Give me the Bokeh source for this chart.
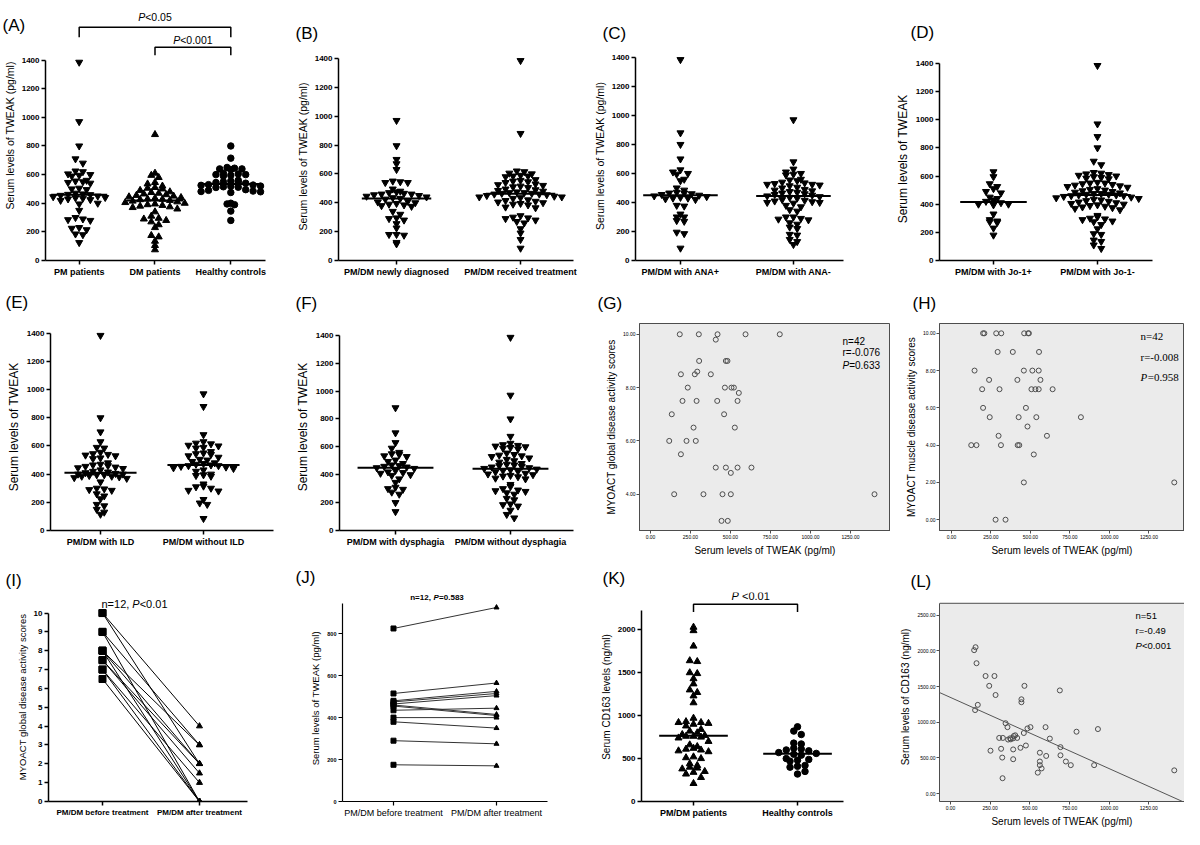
import numpy as np
from bokeh.plotting import figure
from bokeh.layouts import row, column
from bokeh.models import FixedTicker, Range1d, Label, Slope, NumeralTickFormatter
from bokeh.core.properties import value
from bokeh.embed import file_html
from bokeh.resources import INLINE

FONT = "Liberation Sans"
SERIF = "Liberation Serif"

# ---------------- data ----------------
# (A)
a_categories = ["PM patients", "DM patients", "Healthy controls"]
a_pm = [1385, 970, 800, 710, 680, 625, 620, 605, 600, 595, 590, 560, 555, 550, 545, 540, 505, 500,
        495, 470, 465, 462, 460, 455, 450, 445, 440, 438, 435, 430, 425, 420, 400, 395, 350, 300,
        290, 285, 280, 230, 225, 215, 185, 180, 125]
a_dm = [880, 610, 595, 580, 545, 535, 520, 510, 505, 500, 490, 480, 475, 470, 465, 460, 455, 450,
        445, 440, 435, 430, 428, 425, 420, 415, 410, 405, 400, 395, 390, 385, 380, 375, 370, 360,
        340, 310, 295, 290, 280, 270, 250, 230, 175, 165, 135, 105, 75]
a_hc = [800, 715, 650, 645, 640, 640, 635, 610, 605, 600, 600, 595, 590, 560, 555, 550, 548, 545,
        540, 530, 527, 525, 520, 518, 515, 512, 510, 495, 490, 485, 482, 480, 475, 400, 395, 390,
        345, 280]
# (B)
b_categories = ["PM/DM newly diagnosed", "PM/DM received treatment"]
b_new = [970, 795, 700, 670, 630, 550, 545, 540, 540, 495, 480, 475, 470, 465, 460, 460, 455, 450,
         445, 440, 435, 430, 425, 410, 405, 400, 395, 390, 385, 380, 375, 340, 320, 295, 290, 280,
         255, 225, 180, 180, 175, 125, 115]
b_treated = [1385, 880, 620, 615, 605, 600, 590, 585, 585, 580, 560, 555, 550, 545, 540, 530, 525,
             520, 515, 510, 505, 495, 490, 485, 480, 475, 470, 470, 465, 465, 460, 460, 455, 450,
             445, 440, 440, 435, 430, 420, 415, 410, 405, 400, 395, 390, 385, 370, 365, 310, 300,
             295, 290, 280, 270, 260, 220, 190, 145, 85]
# (C)
c_categories = ["PM/DM with ANA+", "PM/DM with ANA-"]
c_pos = [1385, 880, 800, 700, 625, 610, 600, 595, 560, 550, 500, 485, 470, 465, 465, 460, 455, 450,
         445, 440, 435, 430, 430, 425, 420, 380, 375, 320, 300, 300, 275, 270, 195, 185, 85]
c_neg = [970, 680, 630, 610, 600, 595, 590, 560, 555, 550, 540, 535, 530, 525, 525, 520, 515, 505,
         500, 490, 485, 480, 475, 470, 465, 460, 455, 450, 445, 440, 435, 430, 420, 415, 410, 405,
         400, 400, 395, 380, 370, 350, 340, 300, 300, 290, 285, 280, 260, 250, 230, 220, 180, 175,
         145, 130, 110]
# (D)
d_categories = ["PM/DM with Jo-1+", "PM/DM with Jo-1-"]
d_pos = [630, 595, 545, 525, 510, 490, 480, 450, 440, 430, 420, 410, 400, 400, 395, 330, 290, 280,
         275, 270, 230, 180]
d_neg = [1385, 970, 880, 800, 705, 680, 625, 620, 615, 610, 605, 600, 595, 590, 585, 580, 555, 550,
         550, 545, 540, 535, 530, 525, 520, 510, 505, 500, 495, 490, 485, 480, 475, 475, 470, 470,
         465, 465, 460, 460, 455, 450, 445, 440, 435, 430, 425, 420, 415, 410, 405, 400, 395, 390,
         385, 380, 375, 370, 360, 320, 310, 300, 295, 290, 280, 275, 255, 225, 190, 185, 145, 135,
         110, 85]
# (E)
e_categories = ["PM/DM with ILD", "PM/DM without ILD"]
e_ild = [1385, 800, 700, 630, 590, 585, 555, 545, 540, 535, 530, 515, 510, 480, 470, 465, 460, 455,
         450, 445, 440, 430, 420, 415, 410, 405, 400, 400, 395, 395, 390, 385, 385, 380, 375, 370,
         345, 300, 295, 290, 285, 260, 245, 225, 185, 175, 150, 130, 115]
e_no_ild = [970, 880, 680, 630, 620, 615, 605, 600, 590, 585, 560, 550, 545, 540, 530, 520, 505, 500,
            490, 480, 475, 470, 465, 460, 460, 455, 450, 445, 440, 430, 420, 400, 395, 390, 385, 330,
            315, 310, 300, 285, 280, 220, 195, 185, 85]
# (F)
f_categories = ["PM/DM with dysphagia", "PM/DM without dysphagia"]
f_dys = [880, 700, 630, 590, 560, 550, 545, 535, 530, 505, 495, 480, 470, 465, 460, 455, 450, 445,
         430, 420, 415, 410, 400, 395, 370, 345, 310, 300, 295, 275, 260, 200, 135]
f_no_dys = [1385, 970, 800, 675, 625, 615, 610, 605, 600, 595, 590, 585, 555, 545, 540, 535, 530, 520,
            510, 500, 490, 480, 475, 470, 465, 460, 455, 450, 445, 440, 435, 430, 425, 420, 410, 405,
            400, 395, 390, 385, 375, 370, 330, 315, 300, 290, 285, 280, 270, 260, 230, 220, 190, 185,
            175, 145, 115, 90]
# (G)
g_tweak = [183, 302, 419, 408, 594, 808, 304, 471, 481, 190, 277, 292, 377, 233, 506, 521, 465, 552,
           200, 288, 417, 544, 133, 460, 269, 527, 117, 225, 283, 190, 408, 471, 544, 631, 502, 148,
           331, 450, 502, 1400, 444, 483]
g_score = [10, 10, 10, 9.8, 10, 10, 9, 9, 9, 8.5, 8.5, 8.6, 8.5, 8, 8, 8, 8, 7.8, 7.5, 7.5, 7.5, 7.5,
           7, 7, 6.5, 6.5, 6, 6, 6, 5.5, 5, 5, 5, 5, 4.8, 4, 4, 4, 4, 4, 3, 3]
g_stats = ["n=42", "r=-0.076", "=0.633"]
# (H)
h_tweak = [200, 208, 283, 315, 460, 485, 490, 292, 388, 554, 146, 458, 512, 552, 238, 417, 563, 194,
           304, 506, 531, 552, 640, 200, 471, 242, 425, 537, 819, 481, 298, 604, 125, 158, 313, 419,
           429, 521, 458, 1410, 279, 342]
h_score = [10, 10, 10, 10, 10, 10, 10, 9, 9, 9, 8, 8, 8, 8, 7.5, 7.5, 7.5, 7, 7, 7, 7, 7, 7, 6, 6,
           5.5, 5.5, 5.5, 5.5, 5, 4.5, 4.5, 4, 4, 4, 4, 4, 3.5, 2, 2, 0, 0]
h_stats = ["n=42", "r=-0.008", "=0.958"]
# (I)
i_categories = ["PM/DM before treatment", "PM/DM after treatment"]
i_before = [10, 10, 9, 9, 8, 8, 8, 7.5, 7.5, 7, 7, 6.5]
i_after = [4, 2, 3, 0, 3, 2, 0, 2, 1.5, 1, 0, 0]
# (J)
j_categories = ["PM/DM before treatment", "PM/DM after treatment"]
j_before = [825, 515, 480, 475, 465, 460, 455, 435, 400, 380, 290, 175]
j_after = [925, 565, 525, 515, 505, 415, 410, 445, 400, 350, 275, 170]
# (K)
k_categories = ["PM/DM patients", "Healthy controls"]
k_pmdm = [2030, 1990, 1810, 1640, 1630, 1500, 1490, 1430, 1370, 1300, 1270, 1230, 1150, 970, 930,
          920, 920, 910, 900, 880, 840, 820, 800, 780, 770, 760, 760, 750, 740, 700, 660, 640, 620,
          610, 600, 590, 580, 520, 510, 500, 440, 420, 400, 390, 380, 350, 340, 320, 280, 210]
k_hc = [870, 820, 780, 680, 670, 620, 610, 600, 590, 570, 560, 550, 540, 500, 490, 480, 470, 420,
        410, 400, 350, 320]
# (L)
l_tweak = [158, 149, 164, 221, 277, 244, 284, 466, 447, 447, 172, 155, 689, 347, 359, 485, 504, 599,
           462, 794, 929, 626, 307, 330, 399, 408, 363, 376, 395, 420, 693, 475, 441, 319, 395, 252,
           563, 603, 693, 326, 395, 727, 563, 758, 905, 563, 574, 550, 328, 1410, 380]
l_cd163 = [2050, 2009, 1826, 1647, 1647, 1509, 1381, 1509, 1321, 1280, 1243, 1170, 1445, 986, 931,
           913, 931, 931, 849, 867, 904, 771, 780, 780, 807, 817, 757, 775, 775, 780, 651, 674, 642,
           628, 619, 601, 573, 528, 537, 505, 482, 450, 450, 399, 399, 399, 353, 294, 216, 326, 760]
l_stats = ["n=51", "r=-0.49", "<0.001"]

tweak_ticks = [0, 200, 400, 600, 800, 1000, 1200, 1400]
spss_x_ticks = [0, 250, 500, 750, 1000, 1250]

# ---------------- helpers ----------------
CW = {'.': .278, ',': .278, '<': .584, '=': .584, '-': .333, ' ': .278, '\u00a0': .278,
      'P': .667, 'n': .556, 'r': .333}


def text_w(s, size, bold=False):
    return sum(CW.get(ch, .556) for ch in s) * size * (1.04 if bold else 1.0)


def rich_text(p, x, y, parts, size, font=FONT, align="center", color="black"):
    parts = [(t.replace(" ", "\u00a0"), st) for t, st in parts]
    total = sum(text_w(t, size, "bold" in st) for t, st in parts)
    off = -total / 2 if align == "center" else 0.0
    for t, st in parts:
        p.text(x=[x], y=[y], text=[t], x_offset=off, text_align="left", text_baseline="middle",
               text_font=value(font), text_font_size=f"{size}px", text_font_style=st,
               text_color=color)
        off += text_w(t, size, "bold" in st)


def base_fig(w, h, l, r, t, b, xr, yr):
    p = figure(width=w, height=h, x_range=Range1d(*xr), y_range=Range1d(*yr),
               output_backend="svg", toolbar_location=None,
               min_border_left=l, min_border_right=r, min_border_top=t, min_border_bottom=b)
    p.title.visible = False
    p.xgrid.visible = False
    p.ygrid.visible = False
    p.outline_line_color = None
    p.border_fill_color = "white"
    p.background_fill_color = "white"
    return p


def style_axis(ax, tick_size, tick_bold, lab_size, lw=1.5, tick_out=4, color="black"):
    ax.axis_line_width = lw
    ax.axis_line_color = color
    ax.major_tick_line_width = lw
    ax.major_tick_line_color = color
    ax.major_tick_out = tick_out
    ax.major_tick_in = 0
    ax.minor_tick_line_color = None
    ax.major_label_text_font = FONT
    ax.major_label_text_font_size = f"{tick_size}px"
    ax.major_label_text_font_style = "bold" if tick_bold else "normal"
    ax.major_label_text_color = "black"
    ax.major_label_standoff = 2
    ax.axis_label_text_font = FONT
    ax.axis_label_text_font_size = f"{lab_size}px"
    ax.axis_label_text_font_style = "normal"
    ax.axis_label_text_color = "black"
    ax.axis_label_standoff = 3


def title_letter(p, letter, offset, standoff):
    p.title.visible = True
    p.title.text = letter
    p.title.align = "left"
    p.title.offset = offset
    p.title.standoff = standoff
    p.title.text_font = FONT
    p.title.text_font_size = "17px"
    p.title.text_font_style = "normal"
    p.title.text_color = "black"


def swarm(vals, center, bin_h, step):
    v = np.sort(np.asarray(vals, float))[::-1]
    keys = np.floor(v / bin_h).astype(int)
    xs = np.zeros_like(v)
    for k in np.unique(keys):
        idx = np.where(keys == k)[0]
        n = len(idx)
        offs = (np.arange(n) - (n - 1) / 2) * step
        order = np.argsort(np.abs(offs), kind="stable")
        for m, i in enumerate(idx):
            xs[i] = center + offs[order[m]]
    return xs, v


def gp_axes(p, cats, cat_size, cat_bold, yticks, ybound, ylabel, ylab_size, ytick_size=8,
            ytick_bold=True, lw=1.5):
    pos = list(range(1, len(cats) + 1))
    xa, ya = p.xaxis[0], p.yaxis[0]
    style_axis(xa, cat_size, cat_bold, 10, lw)
    xa.ticker = FixedTicker(ticks=pos)
    xa.major_label_overrides = {i: s for i, s in zip(pos, cats)}
    style_axis(ya, ytick_size, ytick_bold, ylab_size, lw)
    ya.ticker = FixedTicker(ticks=yticks)
    ya.bounds = ybound
    ya.axis_label = ylabel


def dot_panel(geom, xr, yr, cats, groups, markers, bin_h, med_half, ylabel, ylab_size,
              yticks=tweak_ticks, ybound=(0, 1400), step_px=7.5, ms=7):
    w, h, l, r, t, b = geom
    p = base_fig(w, h, l, r, t, b, xr, yr)
    ppx = (w - l - r) / (xr[1] - xr[0])
    step = step_px / ppx
    for c, vals, mk in zip(range(1, len(cats) + 1), groups, markers):
        xs, ys = swarm(vals, c, bin_h, step)
        size = ms if mk != "circle" else ms - 0.5
        p.scatter(xs, ys, marker=mk, size=size, fill_color="black", line_color="black")
        med = float(np.median(vals))
        p.segment(x0=[c - med_half], x1=[c + med_half], y0=[med], y1=[med],
                  line_color="black", line_width=2)
    gp_axes(p, cats, 9, True, yticks, ybound, ylabel, ylab_size)
    return p


def spss_panel(geom, xr, yr, xs, ys, xticks, yticks, xlabel, ylabel, box_top=None):
    w, h, l, r, t, b = geom
    p = base_fig(w, h, l, r, t, b, xr, yr)
    if box_top is None:
        p.background_fill_color = "#EBEBEB"
        p.outline_line_color = "#4d4d4d"
        p.outline_line_width = 1
    else:
        p.quad(left=[xr[0]], right=[xr[1]], bottom=[yr[0]], top=[box_top],
               fill_color="#EBEBEB", line_color="#4d4d4d", line_width=1)
    p.scatter(xs, ys, marker="circle", size=5, fill_color=None, line_color="#4d4d4d",
              line_width=1)
    for ax, ticks, lab in ((p.xaxis[0], xticks, xlabel), (p.yaxis[0], yticks, ylabel)):
        style_axis(ax, 5, False, 10, lw=1, tick_out=3, color="#4d4d4d")
        ax.ticker = FixedTicker(ticks=ticks)
        ax.formatter = NumeralTickFormatter(format="0.00")
        ax.axis_label = lab
        ax.major_label_standoff = 1
        ax.axis_label_standoff = 3
    if box_top is not None:
        p.yaxis[0].bounds = (yr[0], box_top)
    return p


def bracket(p, x0, x1, y_top, y_leg):
    p.line([x0, x0, x1, x1], [y_leg, y_top, y_top, y_leg], line_color="black", line_width=1.5)


# column widths 290, 290, 310, 294 ; row heights 279, 279, 271
# ---------------- row 1 ----------------
pA = dot_panel((290, 279, 43, 25, 10, 17), (0.5556, 3.4576), (0, 1746.5), a_categories,
               [a_pm, a_dm, a_hc], ["inverted_triangle", "triangle", "circle"], 40, 0.37,
               "Serum levels of TWEAK (pg/ml)", 10.5)
bracket(pA, 1, 3, 1629, 1559)
bracket(pA, 2, 3, 1490, 1434)
rich_text(pA, 2, 1698, [("P", "italic"), ("<0.05", "normal")], 10.5)
rich_text(pA, 2.5, 1539, [("P", "italic"), ("<0.001", "normal")], 10.5)
pA.add_layout(Label(x=2, y=1642, x_units="canvas", y_units="data", text="(A)", text_font=FONT,
                    text_font_size="17px", text_baseline="middle", text_align="left",
                    text_color="black"), "right")

pB = dot_panel((290, 279, 48, 7, 52, 17), (0.532, 2.427), (0, 1441), b_categories,
               [b_new, b_treated], ["inverted_triangle", "inverted_triangle"], 40, 0.28,
               "Serum levels of TWEAK (pg/ml)", 10.5)
title_letter(pB, "(B)", -43, 20)

pC = dot_panel((310, 279, 55, 47, 51, 17), (0.602, 2.443), (0, 1441), c_categories,
               [c_pos, c_neg], ["inverted_triangle", "inverted_triangle"], 40, 0.33,
               "Serum levels of TWEAK (pg/ml)", 10.5)
title_letter(pC, "(C)", -33, 18)

pD = dot_panel((294, 279, 49, 32, 57, 17), (0.481, 2.529), (0, 1442), d_categories,
               [d_pos, d_neg], ["inverted_triangle", "inverted_triangle"], 40, 0.32,
               "Serum levels of TWEAK", 12)
title_letter(pD, "(D)", -29, 31)

# ---------------- row 2 (frame 322..533) ----------------
pE = dot_panel((290, 279, 50, 17, 43, 25), (0.5146, 2.6796), (0, 1469.6), e_categories,
               [e_ild, e_no_ild], ["inverted_triangle", "inverted_triangle"], 40, 0.35,
               "Serum levels of TWEAK", 12)
title_letter(pE, "(E)", -45, 23)

pF = dot_panel((290, 279, 49, 7, 43, 25), (0.513, 2.548), (0, 1484.4), f_categories,
               [f_dys, f_no_dys], ["inverted_triangle", "inverted_triangle"], 40, 0.33,
               "Serum levels of TWEAK", 12)
title_letter(pF, "(F)", -44, 21)

pG = spss_panel((310, 279, 59, 0, 43, 25), (-68.75, 1500), (2.639, 10.405), g_tweak, g_score,
                spss_x_ticks, [4, 6, 8, 10],
                "Serum levels of TWEAK (pg/ml)", "MYOACT global disease activity scores")
rich_text(pG, 1200, 9.74, [(g_stats[0], "normal")], 10, align="left")
rich_text(pG, 1200, 9.30, [(g_stats[1], "normal")], 10, align="left")
rich_text(pG, 1200, 8.82, [("P", "italic"), (g_stats[2], "normal")], 10, align="left")
title_letter(pG, "(G)", -42, 21)

pH = spss_panel((294, 279, 49, 0, 43, 25), (-75.9, 1474.7), (-0.579, 10.526), h_tweak, h_score,
                spss_x_ticks, [0, 2, 4, 6, 8, 10],
                "Serum levels of TWEAK (pg/ml)", "MYOACT muscle disease activity scores")
rich_text(pH, 1196, 9.84, [(h_stats[0], "normal")], 11, font=SERIF, align="left")
rich_text(pH, 1196, 8.74, [(h_stats[1], "normal")], 11, font=SERIF, align="left")
rich_text(pH, 1196, 7.63, [("P", "italic"), (h_stats[2], "normal")], 11, font=SERIF, align="left")
title_letter(pH, "(H)", -27, 21)

# ---------------- row 3 (frame 592..805) ----------------
pI = base_fig(290, 271, 48, 43, 34, 24, (0.4433, 2.495), (0, 11.09))
pI.multi_line(xs=[[1, 2] for _ in i_before], ys=[[b0, a0] for b0, a0 in zip(i_before, i_after)],
              line_color="black", line_width=1)
pI.scatter([1] * len(i_before), i_before, marker="square", size=7, color="black")
pI.scatter([2] * len(i_after), i_after, marker="triangle", size=6, color="black")
gp_axes(pI, i_categories, 8, True, list(range(0, 11)), (0, 10),
        "MYOACT global disease activity scores", 9.5, ytick_size=8)
rich_text(pI, 1.33, 10.5, [("n=12, ", "normal"), ("P", "italic"), ("<0.01", "normal")], 11)
title_letter(pI, "(I)", -43, 5)

pJ = base_fig(290, 271, 52, 33, 34, 24, (0.505, 2.495), (0, 996.5))
pJ.multi_line(xs=[[1, 2] for _ in j_before], ys=[[b0, a0] for b0, a0 in zip(j_before, j_after)],
              line_color="#333333", line_width=1)
pJ.scatter([1] * len(j_before), j_before, marker="square", size=5, color="black")
pJ.scatter([2] * len(j_after), j_after, marker="triangle", size=5, color="black")
gp_axes(pJ, j_categories, 9, False, [0, 200, 400, 600, 800], (0, 945),
        "Serum levels  of TWEAK (pg/ml)", 9.5, ytick_size=5.5, ytick_bold=True, lw=1.2)
rich_text(pJ, 1.427, 973, [("n=12, ", "bold"), ("P", "bold italic"), ("=0.583", "bold")], 8)
title_letter(pJ, "(J)", -47, 11)

pK = dot_panel((310, 271, 61, 47, 34, 24), (0.5, 2.442), (0, 2434), k_categories,
               [k_pmdm, k_hc], ["triangle", "circle"], 70, 0.33,
               "Serum CD163 levels (ng/ml)", 10,
               yticks=[0, 500, 1000, 1500, 2000], ybound=(0, 2230))
bracket(pK, 1, 2, 2297, 2206)
rich_text(pK, 1.55, 2389, [("P", "italic"), (" <0.01", "normal")], 11)
title_letter(pK, "(K)", -39, 10)

pL = spss_panel((294, 271, 49, 0, 34, 24), (-69.3, 1474.5), (-110, 2816), l_tweak, l_cd163,
                spss_x_ticks, [0, 500, 1000, 1500, 2000, 2500],
                "Serum levels of TWEAK (pg/ml)", "Serum levels of CD163 (ng/ml)", box_top=2665)
slope_m, slope_b = np.polyfit(np.asarray(l_tweak, float), np.asarray(l_cd163, float), 1)
pL.add_layout(Slope(gradient=float(slope_m), y_intercept=float(slope_b), line_color="#555555",
                    line_width=1))
rich_text(pL, 1166, 2500, [(l_stats[0], "normal")], 9.5, align="left")
rich_text(pL, 1166, 2280, [(l_stats[1], "normal")], 9.5, align="left")
rich_text(pL, 1166, 2074, [("P", "italic"), (l_stats[2], "normal")], 9.5, align="left")
title_letter(pL, "(L)", -29, 4)

layout = column(row(pA, column(pB), column(pC), column(pD)),
                row(pE, pF, pG, pH),
                row(pI, pJ, pK, pL))

with open("out.html", "w") as f:
    f.write(file_html(layout, INLINE))
